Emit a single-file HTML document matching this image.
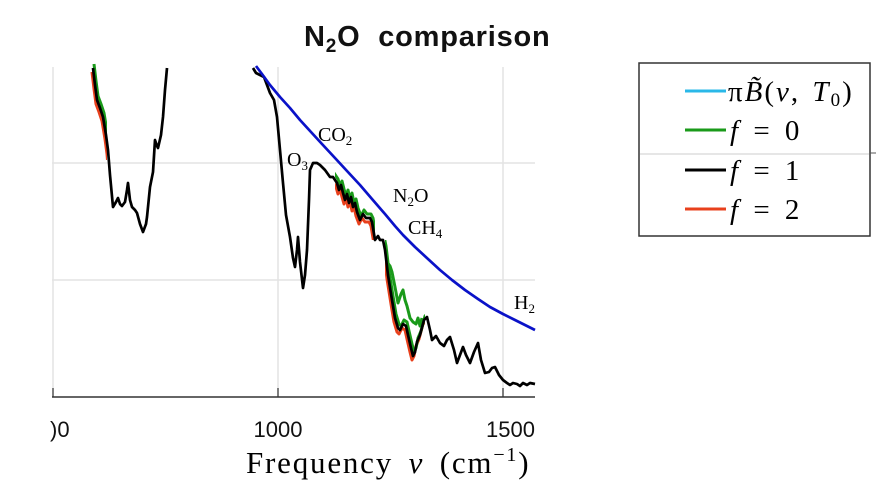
<!DOCTYPE html>
<html><head><meta charset="utf-8"><style>
html,body{margin:0;padding:0;background:#fff;width:884px;height:494px;overflow:hidden}
</style></head><body>
<svg width="884" height="494" viewBox="0 0 884 494" xmlns="http://www.w3.org/2000/svg">
<rect width="884" height="494" fill="#fff"/>
<text x="304" y="46" font-family="Liberation Sans, sans-serif" font-weight="bold" font-size="29" letter-spacing="0.8" fill="#111">N<tspan font-size="19" dy="6">2</tspan><tspan dy="-6">O&#160;&#160;comparison</tspan></text>
<g stroke="#e3e3e3" stroke-width="1.5">
<line x1="52" y1="163" x2="535" y2="163"/><line x1="52" y1="280" x2="535" y2="280"/>
<line x1="278" y1="67" x2="278" y2="397"/><line x1="503" y1="67" x2="503" y2="397"/>
<line x1="53" y1="67" x2="53" y2="397"/>
</g>
<line x1="52" y1="397" x2="535" y2="397" stroke="#333" stroke-width="1.5"/>
<g stroke="#333" stroke-width="1.2"><line x1="53" y1="397" x2="53" y2="388"/><line x1="278" y1="397" x2="278" y2="388"/><line x1="503" y1="397" x2="503" y2="388"/></g>
<defs>
<polyline id="blk" fill="none" stroke-linejoin="round" points="93,68 95,85 97,100 100,108 103,117 106,135 108,150 110,175 113,207 116,202 118,198 120,204 122,206 125,202 127,190 128,183 130,200 132,207 135,210 137,213 140,224 143,232 146,224 147,217 150,187 153,172 155,140 157,146 158,148 161,135 163,117 165,90 167,68"/>
<polyline id="blk2" fill="none" stroke-linejoin="round" points="253,68 256,73 260,75 264,77 267,85 270,93 274,100 277,117 280,150 283,183 286,215 290,237 293,258 295,267 297,250 298,237 300,262 303,288 305,275 307,250 309,200 310,170 313,163 317,163 320,165 325,170 330,177 333,177 337,183 339,190 341,185 343,193 345,200 347,194 349,203 351,197 353,207 355,203 357,212 360,220 363,214 366,218 370,218 372,222 375,240 378,236 380,240 383,240 385,250 388,275 392,300 395,318 398,328 400,330 403,324 406,326 408,335 411,348 413,356 415,352 417,342 420,335 424,320 427,317 430,330 432,340 436,336 440,343 444,346 447,340 450,337 454,350 457,363 460,355 463,347 466,355 470,363 474,352 478,343 481,360 485,373 489,372 492,368 495,367 499,375 503,380 507,383 510,385 513,383 517,384 520,386 523,383 527,385 530,383 535,384"/>
<clipPath id="c1"><rect x="85" y="60" width="22" height="100"/><rect x="335" y="170" width="40" height="70"/><rect x="385" y="240" width="40" height="130"/></clipPath>
</defs>
<g stroke-width="3">
<g clip-path="url(#c1)" stroke="#e8401c"><use href="#blk" transform="translate(-1,4)"/><use href="#blk2" transform="translate(-1,4)"/></g>
<g clip-path="url(#c1)" stroke="#1a9a1a"><use href="#blk" transform="translate(1,-4)"/><use href="#blk2" transform="translate(1,-4)"/></g>
<polyline fill="none" stroke="#1a9a1a" stroke-linejoin="round" points="387,262 390,266 392,272 395,287 398,303 401,294 403,290 405,300 407,306 410,318 413,322 416,324 418,318 420,326 422,318"/>
<use href="#blk" stroke="#000" stroke-width="2.7"/>
<use href="#blk2" stroke="#000" stroke-width="2.7"/>
</g>
<polyline fill="none" stroke="#0a12c8" stroke-width="2.7" stroke-linejoin="round" points="256,66 262,74 270,85 280,97 290,108 300,120 311,132 322,144 335,158 347,171 360,185 372,199 385,214 395,226 403,235 415,247 428,259 440,270 452,280 465,290 478,299 490,307 503,314 515,320 525,325 535,330"/>
<g font-family="Liberation Serif, serif" font-size="20" fill="#000">
<text x="318" y="141">CO<tspan font-size="13" dy="4">2</tspan></text>
<text x="287" y="166">O<tspan font-size="13" dy="4">3</tspan></text>
<text x="393" y="202">N<tspan font-size="13" dy="4">2</tspan><tspan dy="-4">O</tspan></text>
<text x="408" y="234">CH<tspan font-size="13" dy="4">4</tspan></text>
<text x="514" y="309">H<tspan font-size="13" dy="4">2</tspan></text>
</g>
<rect x="536" y="290" width="20" height="30" fill="#fff"/>
<g font-family="Liberation Sans, sans-serif" font-size="22" fill="#111">
<text x="50" y="437">)0</text>
<text x="278" y="437" text-anchor="middle">1000</text>
<text x="535" y="437" text-anchor="end">1500</text>
</g>
<text x="246" y="473" font-family="Liberation Serif, serif" font-size="31" letter-spacing="1.8" word-spacing="6">Frequency <tspan font-style="italic">ν</tspan> (cm<tspan font-size="20" dy="-12">−1</tspan><tspan dy="12">)</tspan></text>
<rect x="639" y="63" width="231" height="173" fill="#fff" stroke="#333" stroke-width="1.5"/>
<line x1="640" y1="154" x2="869" y2="154" stroke="#ccc" stroke-width="1"/>
<line x1="870" y1="153" x2="876" y2="153" stroke="#555" stroke-width="1"/>
<g stroke-width="3">
<line x1="685" y1="91" x2="726" y2="91" stroke="#2ab8e8"/>
<line x1="685" y1="130" x2="726" y2="130" stroke="#1a9a1a"/>
<line x1="685" y1="170" x2="726" y2="170" stroke="#000"/>
<line x1="685" y1="209" x2="726" y2="209" stroke="#e8401c"/>
</g>
<g font-family="Liberation Serif, serif" font-size="29" fill="#000">
<text x="728" y="101" letter-spacing="2" word-spacing="3">π<tspan font-style="italic">B̃</tspan>(<tspan font-style="italic">ν</tspan>, <tspan font-style="italic">T</tspan><tspan font-size="19" dy="5">0</tspan><tspan dy="-5">)</tspan></text>
<text x="730" y="140" word-spacing="8"><tspan font-style="italic">f</tspan> = 0</text>
<text x="730" y="180" word-spacing="8"><tspan font-style="italic">f</tspan> = 1</text>
<text x="730" y="219" word-spacing="8"><tspan font-style="italic">f</tspan> = 2</text>
</g>
</svg>
</body></html>
